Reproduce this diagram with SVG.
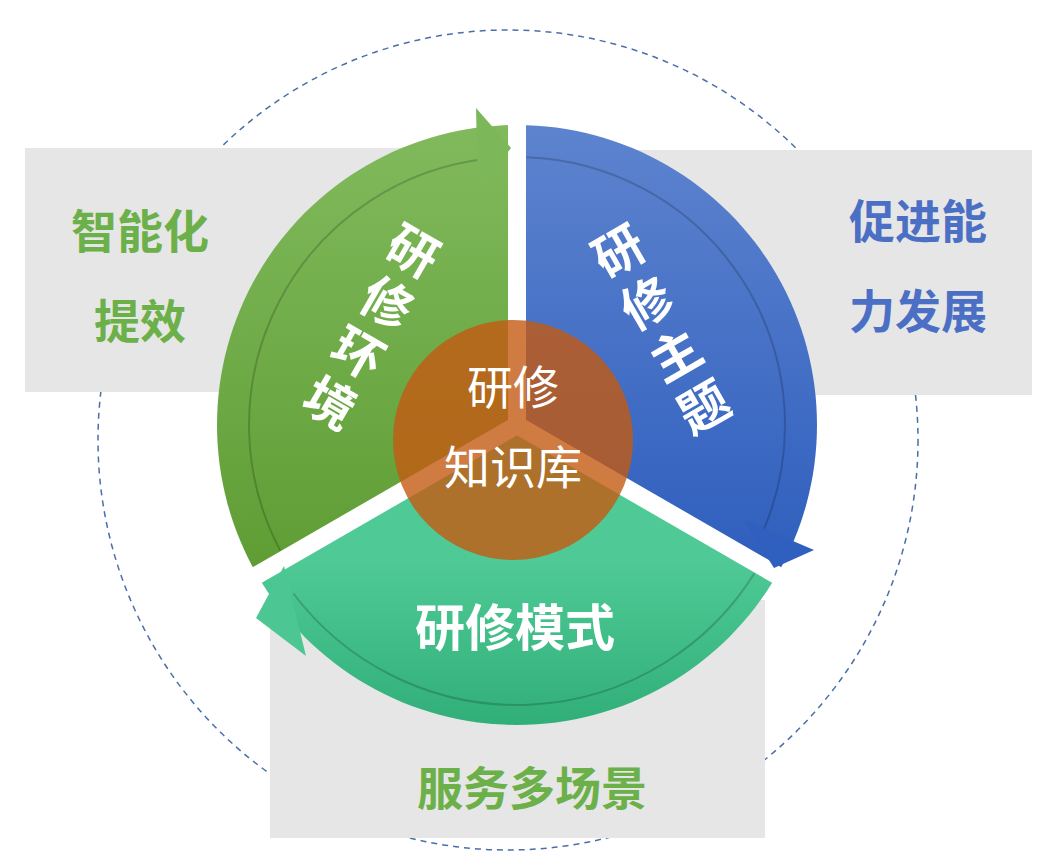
<svg xmlns="http://www.w3.org/2000/svg" width="1056" height="860" viewBox="0 0 1056 860">
<style>
.side{font-family:"Noto Sans CJK SC","Noto Sans",sans-serif;font-weight:bold;font-size:46px;text-anchor:middle}
.w{font-family:"Noto Sans CJK SC","Noto Sans",sans-serif;font-weight:bold;font-size:50px;fill:#fff;text-anchor:middle;dominant-baseline:central}
.c{font-family:"Noto Sans CJK SC","Noto Sans",sans-serif;font-size:46px;fill:#fff;text-anchor:middle}
.inner{fill:none;stroke:#000;stroke-opacity:0.18;stroke-width:2}
.gap{stroke:#fff;stroke-width:18}
</style>
<defs>
<linearGradient id="gG" x1="0" y1="110" x2="0" y2="580" gradientUnits="userSpaceOnUse"><stop offset="0" stop-color="#82bb5e"/><stop offset="1" stop-color="#5e9c33"/></linearGradient>
<linearGradient id="gB" x1="0" y1="110" x2="0" y2="580" gradientUnits="userSpaceOnUse"><stop offset="0" stop-color="#5f85cf"/><stop offset="1" stop-color="#2d5dbd"/></linearGradient>
<linearGradient id="gT" x1="0" y1="560" x2="0" y2="740" gradientUnits="userSpaceOnUse"><stop offset="0" stop-color="#4fca96"/><stop offset="1" stop-color="#2eac76"/></linearGradient>
</defs>
<rect width="1056" height="860" fill="#fff"/>
<circle cx="508" cy="440" r="410" fill="none" stroke="#4a6fa8" stroke-width="1.5" stroke-dasharray="6 5"/>
<rect x="25" y="148" width="480" height="244" fill="#e6e6e6"/>
<rect x="530" y="150" width="502" height="245" fill="#e6e6e6"/>
<rect x="270" y="600" width="495" height="238" fill="#e6e6e6"/>
<g id="green">
<path d="M517,425 L257.2,575 A300,300 0 0,1 517,125 Z" fill="url(#gG)"/>
</g>
<g id="blue">
<path d="M517,425 L517,125 A300,300 0 0,1 776.8,575 Z" fill="url(#gB)"/>
</g>
<g id="teal">
<path d="M517,425 L776.8,575 A300,300 0 0,1 257.2,575 Z" fill="url(#gT)"/>
</g>
<g id="connectors">
<line class="gap" x1="517" y1="425" x2="517" y2="100"/>
<line class="gap" x1="517" y1="425" x2="240" y2="585"/>
<line class="gap" x1="517" y1="425" x2="794" y2="585"/>
<path class="inner" d="M280.4,550.8 A268,268 0 0,1 484.3,159"/>
<path class="inner" d="M526.4,157.2 A268,268 0 0,1 763.7,529.7"/>
<path class="inner" d="M754.4,573.4 A280,280 0 0,1 293.4,593.5"/>
<polygon points="476,108 511,148 478,192" fill="#7cb759"/>
<polygon points="744,520 814,550 774,568" fill="#2f5fbf"/>
<polygon points="256,618 284,566 306,656" fill="#4cc794"/>
</g>
<g id="center">
<circle cx="513" cy="440" r="120" fill="#c45a12" fill-opacity="0.8"/>
<text class="c" x="513" y="404">研修</text>
<text class="c" x="513" y="484">知识库</text>
</g>
<g id="labels">
<text class="w" transform="translate(415,248) rotate(30)">研</text>
<text class="w" transform="translate(389,300) rotate(30)">修</text>
<text class="w" transform="translate(360,350) rotate(30)">环</text>
<text class="w" transform="translate(332,400) rotate(30)">境</text>
<text class="w" transform="translate(617,248) rotate(-30)">研</text>
<text class="w" transform="translate(645,300) rotate(-30)">修</text>
<text class="w" transform="translate(674,352) rotate(-30)">主</text>
<text class="w" transform="translate(702,404) rotate(-30)">题</text>
<text class="w" x="515" y="624">研修模式</text>
<text class="side" x="140" y="248" fill="#6cb04a">智能化</text>
<text class="side" x="140" y="338" fill="#6cb04a">提效</text>
<text class="side" x="918" y="238" fill="#4a6fc4">促进能</text>
<text class="side" x="918" y="328" fill="#4a6fc4">力发展</text>
<text class="side" x="532" y="805" fill="#6cb04a">服务多场景</text>
</g>
</svg>
